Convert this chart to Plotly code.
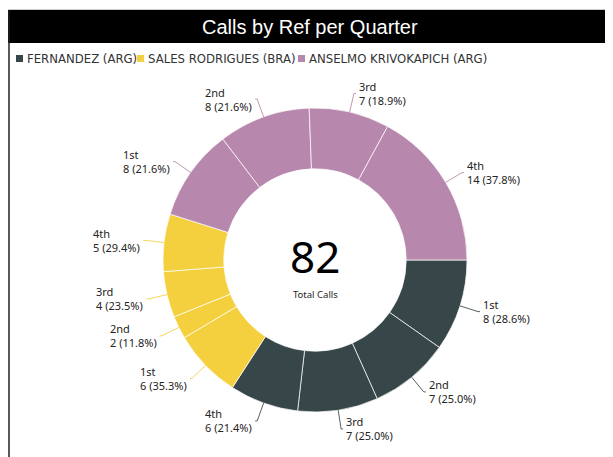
import math
import plotly.graph_objects as go

# ---- data ----
refs = ["FERNANDEZ (ARG)", "SALES RODRIGUES (BRA)", "ANSELMO KRIVOKAPICH (ARG)"]
quarters = ["1st", "2nd", "3rd", "4th"]
calls_fernandez = [8, 7, 7, 6]
calls_sales = [6, 2, 4, 5]
calls_anselmo = [8, 8, 7, 14]
ref_colors = ["#374649", "#F4D03F", "#B887AD"]
title_text = "Calls by Ref per Quarter"
center_caption = "Total Calls"

OFF = 8                      # page body margin of the browser
W, H = 613 - OFF, 457 - OFF  # figure size so that it fills the window
cx, cy, R = 315, 260, 152    # pie centre / radius (window pixels)

groups = [calls_fernandez, calls_sales, calls_anselmo]
labels, values, colors, texts = [], [], [], []
for ref, vals, col in zip(refs, groups, ref_colors):
    tot = sum(vals)
    for q, v in zip(quarters, vals):
        labels.append(f"{ref} {q}")
        values.append(v)
        colors.append(col)
        texts.append(f"{q}<br>{v} ({v / tot * 100:.1f}%)")
total = sum(values)


def px(x):
    return (x - OFF) / W


def py(y):
    return 1 - (y - OFF) / H


fig = go.Figure()
fig.add_trace(go.Pie(
    labels=labels, values=values, sort=False, direction="clockwise",
    rotation=90, hole=0.6, textinfo="none", hoverinfo="label+value",
    marker=dict(colors=colors, line=dict(color="rgba(255,255,255,0.7)", width=1)),
    domain=dict(x=[px(cx - R), px(cx + R)], y=[py(cy + R), py(cy - R)]),
    showlegend=False,
))

shapes = []
annotations = []

# title bar and frame
shapes.append(dict(type="rect", xref="paper", yref="paper", x0=px(8), x1=1,
                   y0=py(43), y1=py(10), fillcolor="black", line=dict(width=0), layer="below"))
shapes.append(dict(type="line", xref="paper", yref="paper", x0=px(8), x1=1,
                   y0=py(9.5), y1=py(9.5), line=dict(color="#cccccc", width=1)))
shapes.append(dict(type="line", xref="paper", yref="paper", x0=px(9), x1=px(9),
                   y0=py(10), y1=0, line=dict(color="#222222", width=1.5)))
annotations.append(dict(text=title_text, xref="paper", yref="paper", x=px(310), y=py(26.5),
                        showarrow=False, xanchor="center", yanchor="middle",
                        font=dict(family="Liberation Sans, Arial", size=20, color="white")))

# legend (squares + text)
leg_x = [16, 137, 298]
for ref, col, lx in zip(refs, ref_colors, leg_x):
    shapes.append(dict(type="rect", xref="paper", yref="paper", x0=px(lx), x1=px(lx + 7),
                       y0=py(62), y1=py(55), fillcolor=col, line=dict(width=0)))
    annotations.append(dict(text=ref, xref="paper", yref="paper", x=px(lx + 9), y=py(58.5),
                            showarrow=False, xanchor="left", yanchor="middle",
                            font=dict(family="DejaVu Sans Condensed, Noto Sans", size=13,
                                      color="#333333")))

# outside labels with leader lines
cum = 0.0
for v, col, t in zip(values, colors, texts):
    mid = 90 + (cum + v / 2) / total * 360
    cum += v
    a = math.radians(mid)
    s, c = math.sin(a), math.cos(a)
    ex, ey = cx + R * s, cy - R * c
    lx, ly = cx + (R + 19) * s, cy - (R + 19) * c
    side = 1 if s >= 0 else -1
    shapes.append(dict(type="path", xref="paper", yref="paper",
                       path=f"M {px(ex)},{py(ey)} L {px(lx)},{py(ly)} L {px(lx + 2 * side)},{py(ly)}",
                       line=dict(color=col, width=1), opacity=0.85))
    annotations.append(dict(text=t, xref="paper", yref="paper", x=px(lx + 3 * side), y=py(ly),
                            showarrow=False, xanchor="left" if side > 0 else "right",
                            yanchor="middle", align="left",
                            font=dict(family="Noto Sans", size=11, color="#252423")))

# centre text
annotations.append(dict(text=str(total), xref="paper", yref="paper", x=px(cx), y=py(256),
                        showarrow=False, xanchor="center", yanchor="middle",
                        font=dict(family="Noto Sans", size=44, color="black")))
annotations.append(dict(text=center_caption, xref="paper", yref="paper", x=px(cx), y=py(294),
                        showarrow=False, xanchor="center", yanchor="middle",
                        font=dict(family="Noto Sans", size=9.5, color="#252423")))

fig.update_layout(width=W, height=H, margin=dict(l=0, r=0, t=0, b=0),
                  paper_bgcolor="white", plot_bgcolor="white",
                  shapes=shapes, annotations=annotations)
fig.write_html("out.html")
